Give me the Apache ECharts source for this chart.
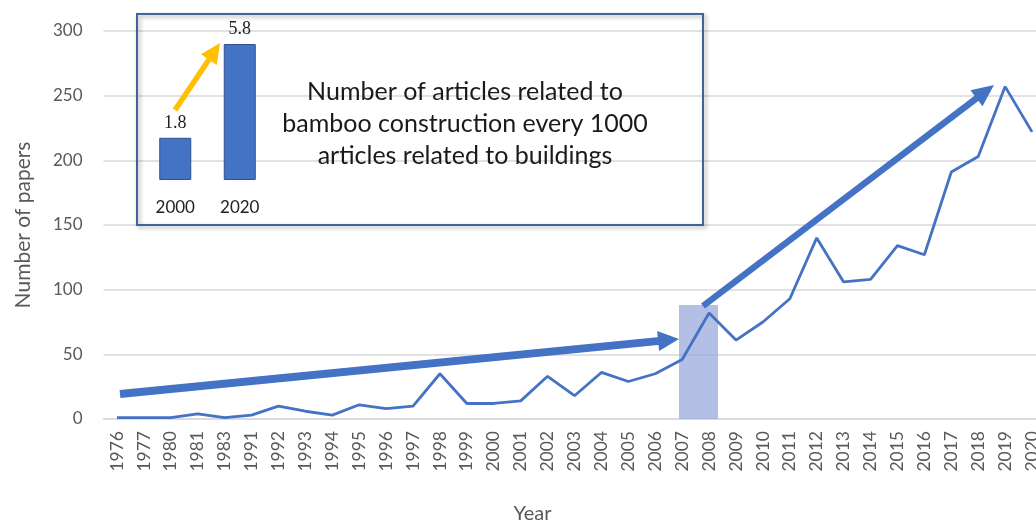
<!DOCTYPE html>
<html><head><meta charset="utf-8">
<script src="https://cdn.jsdelivr.net/npm/echarts@6/dist/echarts.min.js"></script>
<style>html,body{margin:0;padding:0;background:#fff}#c{width:1036px;height:521px}</style>
</head><body><div id="c"></div>
<script>
// Main series
const years = ['1976','1977','1980','1981','1983','1991','1992','1993','1994','1995','1996','1997','1998','1999','2000','2001','2002','2003','2004','2005','2006','2007','2008','2009','2010','2011','2012','2013','2014','2015','2016','2017','2018','2019','2020'];
const papers = [1,1,1,4,1,3,10,6,3,11,8,10,35,12,12,14,33,18,36,29,35,46,82,61,75,93,140,106,108,134,127,191,203,257,222];
// Inset: articles on bamboo construction per 1000 building articles
const insetYears = ['2000','2020'];
const insetValues = [1.8, 5.8];
const insetText = 'Number of articles related to\nbamboo construction every 1000\narticles related to buildings';

const BLUE = '#4472C4';
const FONT = 'Lato';

function arrow(x0, y0, x1, y1, width, headLen, headHalf, color) {
  const dx = x1 - x0, dy = y1 - y0, L = Math.hypot(dx, dy);
  const ux = dx / L, uy = dy / L, nx = -uy, ny = ux;
  const bx = x1 - ux * headLen, by = y1 - uy * headLen;
  return [
    { type: 'line', z: 20, shape: { x1: x0, y1: y0, x2: bx + ux * 2, y2: by + uy * 2 },
      style: { stroke: color, lineWidth: width } },
    { type: 'polygon', z: 20, shape: { points: [[x1, y1], [bx + nx * headHalf, by + ny * headHalf], [bx - nx * headHalf, by - ny * headHalf]] },
      style: { fill: color } }
  ];
}

const chart = echarts.init(document.getElementById('c'), null, { renderer: 'canvas' });
chart.setOption({
  animation: false,
  textStyle: { fontFamily: FONT },
  grid: [
    { left: 103.5, width: 942, top: 31, bottom: 102, outerBoundsMode: 'none', containLabel: false },
    { left: 143, width: 129, top: 44, bottom: 341, outerBoundsMode: 'none', containLabel: false }
  ],
  xAxis: [
    {
      type: 'category', data: years, gridIndex: 0,
      name: 'Year', nameLocation: 'middle', nameGap: 85,
      nameTextStyle: { fontSize: 20, color: '#595959', fontFamily: FONT, padding: [0, 84, 0, 0] },
      axisLine: { show: true, lineStyle: { color: '#d9d9d9', width: 1.5 } },
      axisTick: { show: false },
      axisLabel: { rotate: 90, fontSize: 17.5, color: '#595959', margin: 12, interval: 0, fontFamily: FONT },
      splitLine: { show: false }
    },
    {
      type: 'category', data: insetYears, gridIndex: 1,
      axisLine: { show: false }, axisTick: { show: false },
      axisLabel: { fontSize: 17, color: '#222', margin: 19, fontFamily: FONT }
    }
  ],
  yAxis: [
    {
      type: 'value', gridIndex: 0, min: 0, max: 300, interval: 50,
      name: 'Number of papers', nameLocation: 'middle', nameGap: 70,
      nameTextStyle: { fontSize: 21, color: '#595959', fontFamily: FONT },
      axisLine: { show: false }, axisTick: { show: false },
      axisLabel: { fontSize: 17, color: '#595959', margin: 21, fontFamily: FONT },
      splitLine: { lineStyle: { color: '#d9d9d9', width: 1.5 } }
    },
    {
      type: 'value', gridIndex: 1, min: 0, max: 5.8,
      show: false, splitLine: { show: false }
    }
  ],
  series: [
    {
      type: 'line', data: papers, xAxisIndex: 0, yAxisIndex: 0,
      symbol: 'none', lineStyle: { color: BLUE, width: 2.8 }, z: 5
    },
    {
      type: 'bar', data: insetValues, xAxisIndex: 1, yAxisIndex: 1,
      barWidth: 32, z: 6,
      itemStyle: { color: BLUE, borderColor: '#2F528F', borderWidth: 1 },
      label: { show: true, position: 'top', distance: 6, fontSize: 18, color: '#222', fontFamily: 'Liberation Serif' }
    }
  ],
  graphic: [
    // shaded band around 2007-2008
    { type: 'rect', z: 1, shape: { x: 679, y: 305, width: 39, height: 114 },
      style: { fill: 'rgba(150,166,218,0.72)' } },
    // inset box
    { type: 'rect', z: 3, shape: { x: 137, y: 14, width: 566, height: 211 },
      style: { fill: 'rgba(255,255,255,0)', stroke: '#41629a', lineWidth: 2,
               shadowColor: 'rgba(0,0,0,0.35)', shadowBlur: 4, shadowOffsetX: 2, shadowOffsetY: 2 } },
    { type: 'text', z: 4, x: 465, y: 124,
      style: { text: insetText, fontSize: 25, fontFamily: FONT, fill: '#1a1a1a',
               align: 'center', verticalAlign: 'middle', lineHeight: 32 } },
    ...arrow(175, 110, 220, 43, 5.5, 20, 9.5, '#FFC000'),
    ...arrow(120, 394, 679, 339, 8, 21, 10, BLUE),
    ...arrow(703, 306, 994, 85, 6.5, 22, 10, BLUE)
  ]
});
</script>
</body></html>
